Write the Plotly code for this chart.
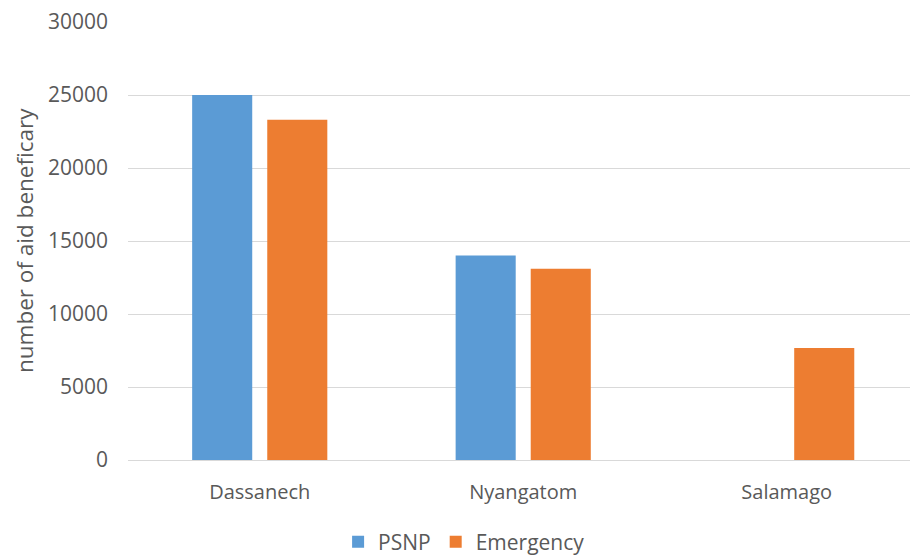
import plotly.graph_objects as go

categories = ["Dassanech", "Nyangatom", "Salamago"]
psnp = [25000, 14000, None]
emergency = [23300, 13100, 7670]
y_ticks = [0, 5000, 10000, 15000, 20000, 25000, 30000]

fig = go.Figure()
fig.add_trace(go.Bar(name="PSNP", x=categories, y=psnp, marker_color="#5B9BD5",
                     marker_line_width=0))
fig.add_trace(go.Bar(name="Emergency", x=categories, y=emergency, marker_color="#ED7D31",
                     marker_line_width=0))

grey = "#595959"
font = dict(family="Open Sans, Liberation Sans, sans-serif", size=20, color=grey)
fig.update_layout(
    width=910, height=555,
    margin=dict(l=128, r=0, t=22, b=95),
    plot_bgcolor="white", paper_bgcolor="white",
    barmode="group", bargap=0.43, bargroupgap=0.2,
    font=font,
    legend=dict(orientation="h", xref="container", x=0.51, xanchor="center",
                yref="container", y=0.06, yanchor="top",
                font=dict(size=21, color=grey), itemwidth=30),
    yaxis=dict(range=[0, 30000], tickvals=y_ticks, tickformat="d",
               gridcolor="#D9D9D9", gridwidth=1, zeroline=False, showline=False,
               ticks="", ticklen=0, automargin=False, ticklabelstandoff=19,
               tickfont=dict(size=21, color=grey)),
    xaxis=dict(showline=True, linecolor="#D9D9D9", linewidth=1, ticks="",
               automargin=False, ticklabelstandoff=14, range=[-0.5, 2.468],
               tickfont=dict(size=20, color=grey)),
    annotations=[dict(text="number of aid beneficary", xref="paper", yref="paper",
                      x=0, y=0.5, xanchor="center", yanchor="middle",
                      xshift=-104, textangle=-90, showarrow=False,
                      font=dict(size=22.5, color=grey))],
)
fig.write_html("out.html", config={"displayModeBar": False},
               post_script="document.body.style.margin='0';")
